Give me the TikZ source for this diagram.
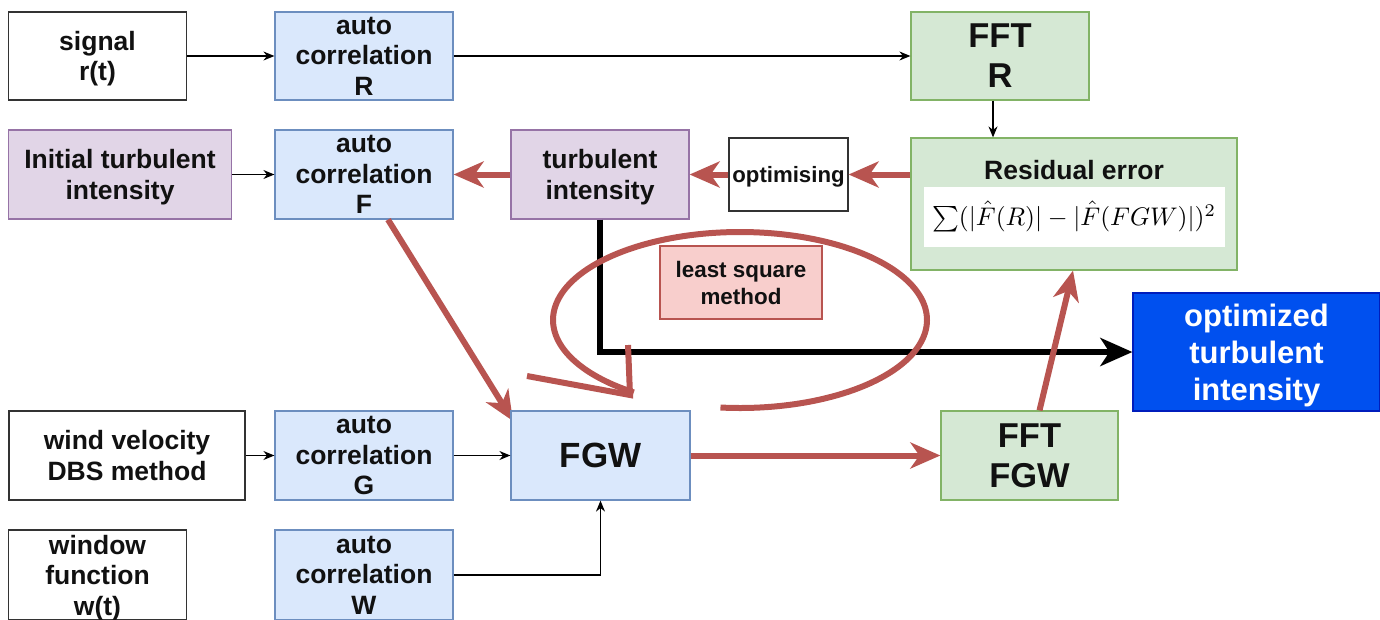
\documentclass[tikz,border=0pt]{standalone}
\usepackage{fontspec}
\setmainfont{Liberation Sans}
\usetikzlibrary{arrows.meta,calc}

\definecolor{bluefill}{HTML}{DAE8FC}
\definecolor{blueline}{HTML}{6C8EBF}
\definecolor{greenfill}{HTML}{D5E8D4}
\definecolor{greenline}{HTML}{82B366}
\definecolor{purplefill}{HTML}{E1D5E7}
\definecolor{purpleline}{HTML}{9673A6}
\definecolor{pinkfill}{HTML}{F8CECC}
\definecolor{redline}{HTML}{B85450}
\definecolor{deepblue}{HTML}{0050EF}
\definecolor{deepblueline}{HTML}{001DBC}
\definecolor{textgrey}{HTML}{111111}

\tikzset{
  base/.style={draw, line width=1.2pt, align=center, inner sep=0pt, text depth=0pt,
    text=textgrey, font=\bfseries\fontsize{26.5}{30.5}\selectfont},
  plainbox/.style={base, fill=white, draw=black!80},
  corrbox/.style={base, fill=bluefill, draw=blueline,
    minimum width=178pt, minimum height=88pt},
  fftbox/.style={base, fill=greenfill, draw=greenline,
    minimum width=178pt, minimum height=88pt,
    font=\bfseries\fontsize{34.5}{40}\selectfont},
  intbox/.style={base, fill=purplefill, draw=purpleline, minimum height=89pt},
  thin/.style={line width=1.3pt, -{Stealth[length=11pt,width=9pt]}},
  redarrow/.style={draw=redline, line width=6pt,
    -{Stealth[length=30pt,width=26pt,inset=9pt]}},
  blackarrow/.style={line width=6pt,
    -{Stealth[length=32pt,width=28pt,inset=9pt]}},
  loopline/.style={draw=redline, line width=6pt, line join=miter}
}

\begin{document}
\begin{tikzpicture}[x=1pt,y=-1pt]
\useasboundingbox (0,0) rectangle (1380,619);

% top row
\node[plainbox, minimum width=178pt, minimum height=88pt] (sig) at (97.5,56) {signal\\r(t)};
\node[corrbox] (aR) at (364,56) {auto\\correlation\\R};
\node[fftbox] (fftR) at (1000,56) {FFT\\R};

% second row
\node[intbox, minimum width=223pt] (init) at (120,174.5) {Initial turbulent\\intensity};
\node[corrbox, minimum height=89pt] (aF) at (364,174.5) {auto\\correlation\\F};
\node[intbox, minimum width=178pt] (ti) at (600,174.5) {turbulent\\intensity};
\node[plainbox, minimum width=119pt, minimum height=73pt,
  font=\bfseries\fontsize{22.2}{26}\selectfont] (opt) at (788.5,174.5) {optimising};

% residual error block with its formula
\node[base, fill=greenfill, draw=greenline, minimum width=326pt,
  minimum height=132pt] (res) at (1074,204) {};
\node[text=textgrey, font=\bfseries\fontsize{26.5}{30}\selectfont] (restitle) at (1074,170) {Residual error};
\node[fill=white, minimum width=301pt, minimum height=60pt, inner sep=0pt] (formula) at (1074,216.5)
  {\resizebox{284pt}{!}{$\sum(|\hat{F}(R)|-|\hat{F}(FGW)|)^2$}};

% method label and result
\node[base, fill=pinkfill, draw=redline, minimum width=162pt, minimum height=73pt,
  font=\bfseries\fontsize{22.4}{27}\selectfont] (lsm) at (741,282.5) {least square\\method};
\node[base, fill=deepblue, draw=deepblueline, text=white, minimum width=247pt,
  minimum height=118pt, font=\bfseries\fontsize{31}{37}\selectfont] (otb) at (1256.5,352)
  {optimized\\turbulent\\intensity};

% lower rows
\node[plainbox, minimum width=236pt, minimum height=89pt] (wind) at (127,455.5) {wind velocity\\DBS method};
\node[corrbox, minimum height=89pt] (aG) at (364,455.5) {auto\\correlation\\G};
\node[fftbox, minimum width=177pt, minimum height=89pt] (fftF) at (1029.5,455.5) {FFT\\FGW};

\node[plainbox, minimum width=178pt, minimum height=90pt] (win) at (97.5,575) {window\\function\\w(t)};
\node[corrbox, minimum height=90pt] (aW) at (364,575) {auto\\correlation\\W};

% autocorrelation F feeds the product from above; its head sits under the box
\coordinate (fgwcorner) at (513,421);
\draw[redarrow] ([xshift=24pt]aF.south) -- (fgwcorner);
\node[base, fill=bluefill, draw=blueline, minimum width=179pt, minimum height=89pt,
  font=\bfseries\fontsize{35}{40}\selectfont] (fgw) at (600.5,455.5) {FGW};

% thin connectors
\draw[thin] (sig.east) -- (aR.west);
\draw[thin] (aR.east) -- (fftR.west);
\draw[thin] ([xshift=-7pt]fftR.south) -- ([xshift=-81pt]res.north);
\draw[thin] (init.east) -- (aF.west);
\draw[thin] (wind.east) -- (aG.west);
\draw[thin] (aG.east) -- (fgw.west);
\draw[thin] (aW.east) -| (fgw.south);

% path to the optimized result
\draw[blackarrow] (ti.south) |- (otb.west);

% optimisation loop
\draw[redarrow] (res.west |- opt.east) -- (opt.east);
\draw[redarrow] (opt.west) -- (ti.east);
\draw[redarrow] (ti.west) -- (aF.east);
\draw[redarrow] (fgw.east) -- (fftF.west);
\draw[redarrow] ([xshift=10pt]fftF.north) -- ([xshift=-1pt]res.south);

% iteration loop around the method label
\coordinate (looptip) at (630,395);
\coordinate (armA) at (527,376);
\coordinate (armB) at (628,345);
\draw[loopline] plot[smooth, domain=-235.4:96, samples=160]
  ({740+187*cos(\x)},{320+88*sin(\x)});
\draw[loopline] (armA) -- (looptip) -- (armB);
\end{tikzpicture}
\end{document}
